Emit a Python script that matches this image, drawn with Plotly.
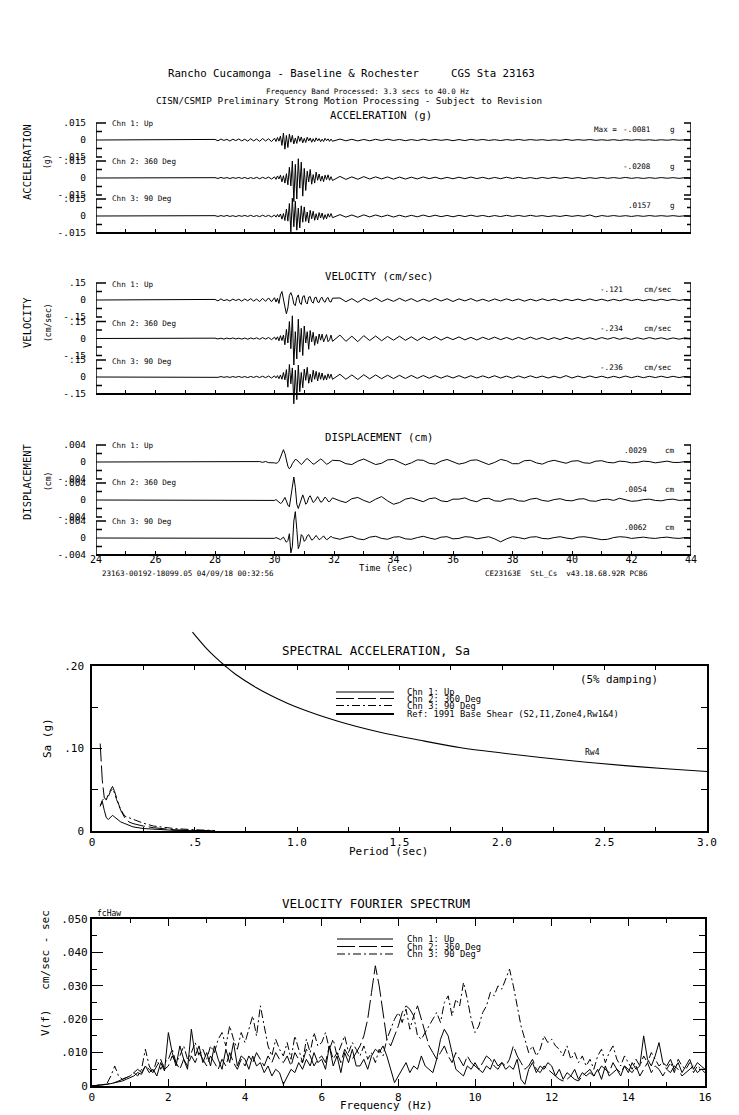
import numpy as np
import plotly.graph_objects as go

W, H = 739, 1115
FONT = "DejaVu Sans Mono"
NB = "\u00a0"


def fx(px):
    return px / W


def fy(py):
    return 1 - py / H


# ---------------- waveform time grid (sec) ----------------
T_SEG_A = np.linspace(28.0, 29.9, 20)
T_SEG_B = np.linspace(30.0, 31.95, 40)
T_SEG_C = np.linspace(32.2, 44.0, 60)
TIME = np.concatenate([[24.0, 27.9], T_SEG_A, T_SEG_B, T_SEG_C])

# Acceleration, units of 0.0001 g
ACC_UP = [
    5, -7, 8, -4, 6, -9, 7, -5, 9, -8,
    7, -10, 11, -8, 9, -12, 13, -9, 11, -14,
    16, -13, 22, -10, 35, -48, 62, -81, 40, -66,
    52, -20, 41, -35, 18, -30, 36, -12, 27, -25,
    14, -22, 25, -9, 18, -20, 11, -16, 19, -8,
    12, -15, 7, -13, 15, -6, 10, -12, 8, -11,
    8, -7, 6, -8, 5, -7, 6, -5, 7, -4,
    5, -6, 4, -5, 7, -4, 5, -3, 4, -6,
    4, -5, 6, -3, 5, -4, 3, -5, 4, -3,
    5, -3, 4, -2, 3, -4, 2, -3, 5, -3,
    3, -2, 4, -3, 2, -3, 3, -4, 3, -2,
    3, -2, 2, -3, 2, -2, 3, -2, 2, -2,
]
ACC_360 = [
    3, -4, 5, -3, 4, -5, 4, -3, 5, -4,
    5, -6, 4, -5, 6, -7, 6, -5, 8, -9,
    10, -12, 18, -8, 25, -34, 20, -45, 38, -60,
    95, -70, 150, -208, 120, -185, 170, -90, 140, -160,
    85, -110, 60, -35, 75, -55, 30, -45, 52, -20,
    35, -28, 18, -32, 25, -14, 28, -20, 12, -22,
    14, -12, 10, -11, 12, -9, 10, -8, 9, -10,
    8, -9, 7, -8, 9, -6, 7, -8, 6, -7,
    7, -6, 8, -5, 6, -7, 5, -6, 7, -5,
    6, -5, 4, -6, 5, -4, 6, -3, 5, -4,
    4, -5, 3, -4, 5, -3, 4, -3, 5, -3,
    3, -4, 3, -3, 4, -2, 3, -3, 3, -2,
]
ACC_90 = [
    3, -4, 4, -3, 5, -4, 3, -5, 4, -3,
    5, -4, 6, -5, 4, -6, 7, -5, 6, -8,
    8, -10, 14, -9, 18, -28, 22, -40, 60, -45,
    110, -140, 157, -95, 130, -125, 70, -105, 90, -55,
    80, -48, 35, -62, 50, -25, 42, -38, 20, -35,
    30, -18, 26, -30, 12, -24, 20, -10, 22, -15,
    12, -10, 9, -11, 10, -8, 9, -7, 8, -9,
    7, -8, 6, -7, 8, -6, 7, -6, 5, -7,
    6, -5, 7, -4, 5, -6, 4, -5, 6, -4,
    5, -4, 6, -3, 4, -5, 3, -4, 5, -3,
    4, -3, 9, -8, 4, -3, 4, -3, 3, -4,
    3, -3, 4, -2, 3, -2, 3, -3, 2, -2,
]

# Velocity, units of 0.001 cm/sec
VEL_UP = [
    5, -8, 10, -6, 4, -9, 8, -5, 7, -10,
    9, -7, 12, -10, 8, -14, 15, -12, 18, -15,
    20, -18, 15, -30, 45, 75, 20, -60, -121, -70,
    40, 65, 30, -35, -50, 20, 45, -25, -40, 30,
    38, -20, -35, 25, 30, -15, -28, 20, 25, -18,
    -22, 15, 24, -10, -20, 12, 22, -14, -18, 16,
    18, -15, 12, -20, 15, -10, 18, -14, 10, -12,
    15, -10, 12, -14, 8, -12, 14, -9, 11, -13,
    10, -8, 12, -10, 7, -11, 9, -8, 10, -7,
    9, -10, 7, -8, 10, -6, 8, -9, 7, -6,
    8, -7, 9, -6, 7, -8, 6, -7, 8, -5,
    6, -7, 5, -6, 7, -5, 6, -4, 5, -4,
]
VEL_360 = [
    3, -4, 3, -5, 4, -3, 5, -4, 3, -5,
    4, -6, 5, -4, 6, -7, 8, -6, 9, -10,
    12, -10, 15, -20, 25, -18, 30, -55, 80, -40,
    150, -90, 200, -234, 60, -180, 170, -120, 90, -150,
    110, -40, 60, -95, 70, -30, 55, -60, 20, -45,
    40, -15, 38, -30, 10, 35, -28, -12, 30, -25,
    30, -25, 20, -28, 25, -18, 22, -20, 18, -15,
    20, -16, 15, -18, 14, -12, 16, -14, 12, -10,
    14, -12, 10, -13, 11, -9, 12, -10, 9, -11,
    10, -9, 12, -8, 9, -10, 8, -9, 10, -7,
    9, -8, 7, -9, 8, -6, 9, -7, 6, -8,
    7, -6, 8, -5, 6, -7, 5, -6, 5, -4,
]
VEL_90 = [
    3, -3, 4, -3, 3, -4, 4, -3, 5, -4,
    4, -5, 5, -4, 6, -5, 7, -6, 8, -9,
    10, -8, 12, -15, 18, -20, 40, -25, 65, -90,
    110, -60, 80, -236, 60, -200, 105, -130, 40, -95,
    70, -30, 85, -55, 25, -45, 60, -20, 50, -35,
    40, -20, 35, -28, 15, -25, 28, -12, 25, -20,
    24, -20, 18, -22, 20, -16, 18, -15, 16, -14,
    15, -13, 14, -12, 13, -11, 12, -10, 11, -9,
    12, -10, 11, -9, 10, -8, 11, -9, 8, -10,
    9, -8, 10, -7, 8, -9, 7, -8, 12, -9,
    8, -7, 9, -6, 7, -8, 6, -7, 8, -6,
    7, -6, 6, -5, 7, -5, 6, -5, 5, -4,
]

# Displacement, units of 0.00001 cm
DIS_UP = [
    0, 2, -3, 4, -2, 3, -5, 4, -3, 5,
    -4, 6, -5, 8, -6, 10, -8, 12, -15, -10,
    -20, -30, -20, 20, 120, 240, 290, 200, 40, -100,
    -160, -120, -40, 20, 60, 50, 10, -40, -60, -30,
    20, 60, 80, 60, 20, -20, -50, -40, -10, 30,
    60, 70, 50, 10, -30, -50, -40, -10, 20, 40,
    30, -40, -60, 20, 70, 10, -60, -30, 50, 60,
    -10, -70, -20, 50, 40, -30, -50, 20, 60, 0,
    -50, -20, 40, 50, -10, -60, -10, 60, 30, -40,
    -40, 30, 40, -20, -50, 10, 40, 0, -30, 20,
    30, -20, -30, 20, 30, -10, -20, 20, 10, -20,
    -10, 20, 10, -20, 0, 20, -10, -10, 10, 0,
]
DIS_360 = [
    0, 1, -2, 2, -1, 2, -3, 2, -2, 3,
    -2, 3, -3, 4, -4, 5, -5, 6, -8, 5,
    -10, 10, -20, -40, -80, -60, 20, 60, -20, -120,
    -160, 100, 380, 540, 300, -100, -200, -80, 60, 120,
    20, -100, -60, 60, 100, 20, -60, -30, 40, 80,
    20, -50, -40, 30, 70, 30, -30, -40, 10, 50,
    -20, -60, 30, 60, -10, -60, 20, 80, -20, -100,
    -60, 20, 50, 0, -40, 30, 50, -20, -40, 20,
    20, 50, -10, -40, 30, 40, -20, -30, 20, 30,
    -20, -30, 20, 40, -10, -30, 10, 30, -10, -20,
    20, 30, -20, -30, 10, 20, -10, 40, 10, -30,
    -20, 10, 20, -10, -20, 10, 20, -10, 0, 0,
]
DIS_90 = [
    0, 1, -1, 2, -1, 1, -2, 2, -1, 2,
    -2, 2, -3, 3, -3, 4, -4, 5, -6, 6,
    -8, 10, -15, -20, -40, -20, 20, -40, -100, -60,
    100, -350, -200, 400, 620, 200, -250, -150, 80, 40,
    -80, -40, 50, 80, 20, -50, -30, 30, 60, 10,
    -40, -20, 30, 50, 0, -40, -20, 20, 40, 10,
    -30, 10, 40, -20, -40, 20, 40, -10, -30, 20,
    30, -20, -30, 10, 40, 0, -30, 20, 30, -20,
    -10, 30, 20, -20, 10, 30, -20, -90, -20, 30,
    10, -20, 20, 30, -10, -20, 10, 30, 0, -20,
    20, 30, 10, -20, -40, -30, 10, 30, 20, -10,
    10, 20, 0, -10, 10, 20, 0, -10, 10, 0,
]

# ---------------- spectral acceleration (g) ----------------
SA_PERIOD = [0.04, 0.05, 0.06, 0.07, 0.08, 0.09, 0.10, 0.11, 0.12, 0.14,
             0.16, 0.18, 0.20, 0.25, 0.30, 0.35, 0.40, 0.50, 0.60]
SA_UP = [0.030, 0.036, 0.025, 0.016, 0.014, 0.017, 0.019, 0.017, 0.015, 0.011,
         0.009, 0.0065, 0.005, 0.003, 0.002, 0.0012, 0.0008, 0.0004, 0.0002]
SA_360 = [0.106, 0.062, 0.040, 0.038, 0.045, 0.050, 0.054, 0.048, 0.040, 0.025,
          0.016, 0.011, 0.009, 0.006, 0.004, 0.0025, 0.0015, 0.0007, 0.0003]
SA_90 = [0.030, 0.037, 0.040, 0.038, 0.042, 0.048, 0.051, 0.046, 0.038, 0.026,
         0.018, 0.016, 0.014, 0.0095, 0.006, 0.0042, 0.003, 0.0015, 0.0006]
REF_PERIOD = [0.49, 0.55, 0.60, 0.65, 0.70, 0.80, 0.90, 1.00, 1.20, 1.40,
              1.60, 1.80, 2.00, 2.20, 2.40, 2.60, 2.80, 3.00]
REF_SA = [0.241, 0.2236, 0.211, 0.200, 0.190, 0.174, 0.161, 0.150, 0.133, 0.120,
          0.110, 0.101, 0.0945, 0.0887, 0.0837, 0.0793, 0.0755, 0.0721]

# ---------------- velocity Fourier spectrum (0.001 cm/sec-sec) ----------------
FREQ = np.linspace(0.0, 16.0, 161)
F_UP = [
    0, 0.1, 0.2, 0.3, 0.5, 0.7, 1.0, 1.2, 1.5, 2.0,
    2.5, 3.0, 4.0, 3.5, 6.0, 4.0, 5.0, 3.0, 7.0, 4.5,
    16, 10, 6, 12, 8, 5, 17, 9, 12, 7,
    10, 6, 12, 8, 5, 11, 7, 13, 6, 9,
    8, 5, 9, 6, 7, 4, 6, 3, 5, 4,
    0.5, 3, 5, 4, 7, 5, 8, 6, 10, 7,
    8, 5, 12, 6, 9, 4, 10, 7, 11, 6,
    6, 8, 5, 9, 11, 10, 12, 9, 5, 1,
    3, 5, 7, 4, 6, 5, 9, 6, 5, 4,
    8, 14, 17, 15, 10, 5, 4, 3, 6, 5,
    7, 5, 4, 6, 5, 8, 6, 7, 5, 6,
    5, 8, 2, 0.5, 5, 7, 4, 6, 5, 7,
    6, 3, 5, 2, 4, 3, 5, 2, 4, 3,
    4, 3, 5, 2, 6, 3, 4, 5, 3, 6,
    4, 7, 5, 6, 15, 8, 6, 9, 13, 7,
    6, 8, 5, 7, 4, 6, 8, 5, 7, 6,
    5,
]
F_360 = [
    0, 0.1, 0.2, 0.3, 0.5, 0.8, 1.0, 1.5, 2.0, 2.5,
    3, 4, 5, 4, 6, 5, 4, 6, 8, 5,
    6, 9, 7, 5, 8, 6, 9, 7, 10, 8,
    6, 9, 7, 5, 8, 6, 10, 7, 5, 8,
    6, 9, 7, 10, 8, 6, 9, 7, 10, 8,
    7, 9, 6, 10, 8, 7, 11, 9, 6, 8,
    9, 7, 12, 8, 10, 7, 11, 9, 8, 10,
    12, 15, 20, 28, 36, 30, 22, 14, 12, 15,
    18, 22, 24, 23, 21, 24, 20, 16, 12, 10,
    8, 10, 12, 9, 7, 10, 8, 6, 9, 7,
    6, 5, 7, 9, 8, 6, 5, 7, 6, 8,
    12, 9, 7, 5, 6, 8, 5, 4, 6, 5,
    4, 3, 2, 1.5, 2, 3, 2, 1.5, 3, 4,
    5, 3, 4, 6, 5, 4, 7, 5, 4, 6,
    5, 4, 6, 3, 5, 7, 4, 6, 5, 3,
    5, 4, 6, 5, 3, 4, 5, 6, 4, 5,
    5,
]
F_90 = [
    0, 0.1, 0.2, 0.4, 0.8, 3, 6, 3, 2, 2.5,
    3, 4, 3, 5, 11, 6, 4, 8, 5, 7,
    8, 11, 7, 9, 12, 8, 10, 13, 9, 11,
    8, 12, 10, 14, 16, 12, 18, 14, 11, 16,
    13, 17, 21, 15, 24, 18, 12, 9, 14, 11,
    9, 13, 8, 15, 11, 7, 14, 10, 16, 12,
    13, 16, 11, 14, 9, 12, 15, 10, 13, 11,
    9, 12, 8, 10, 7, 11, 9, 14, 17, 20,
    22, 19, 23, 17, 21, 15, 14, 16, 18, 20,
    22, 19, 25, 27, 21, 26, 24, 31, 26, 20,
    16, 18, 22, 24, 28, 27, 30, 29, 32, 35,
    30, 24, 18, 14, 10, 12, 9, 11, 15, 13,
    14, 12, 11, 9, 12, 8, 10, 7, 9, 6,
    8, 5, 9, 11, 7, 10, 12, 8, 6, 9,
    7, 5, 8, 6, 9, 7, 10, 8, 6, 7,
    5, 7, 4, 8, 6, 5, 7, 4, 6, 5,
    4,
]

# ---------------- figure ----------------
fig = go.Figure()
shapes = []
annotations = []
layout_axes = {}

DASH2 = "18px,4px"
DASH3 = "8px,3px,2px,3px"
PX_PER_SEC = (691 - 96) / 20.0

# channel definitions: values, unit, full scale, zero pixel, x axis
CHANNELS = [
    (ACC_UP, 1e-4, 0.015, 140, "x2"),
    (ACC_360, 1e-4, 0.015, 178, "x2"),
    (ACC_90, 1e-4, 0.015, 216, "x2"),
    (VEL_UP, 1e-3, 0.15, 300, "x3"),
    (VEL_360, 1e-3, 0.15, 338.5, "x3"),
    (VEL_90, 1e-3, 0.15, 377, "x3"),
    (DIS_UP, 1e-5, 0.004, 462, "x"),
    (DIS_360, 1e-5, 0.004, 500, "x"),
    (DIS_90, 1e-5, 0.004, 538, "x"),
]
FS_TEXT = {0.015: ".015", 0.15: ".15", 0.004: ".004"}
HALF_PX = 17.0
EXT_PX = 42.0

for i, (vals, unit, fs, zpx, xa) in enumerate(CHANNELS):
    yid = "y" if i == 0 else f"y{i + 1}"
    ykey = "yaxis" if i == 0 else f"yaxis{i + 1}"
    yvals = np.array([0.0, 0.0] + list(vals)) * unit
    fig.add_trace(go.Scatter(x=TIME, y=yvals, mode="lines", xaxis=xa, yaxis=yid,
                             line=dict(color="black", width=1), hoverinfo="skip"))
    ext = fs * EXT_PX / HALF_PX
    layout_axes[ykey] = dict(
        domain=[fy(zpx + EXT_PX), fy(zpx - EXT_PX)], range=[-ext, ext], anchor=xa,
        showgrid=False, zeroline=False, showline=False, automargin=False,
        tickmode="array", tickvals=[-fs, 0, fs],
        ticktext=["-" + FS_TEXT[fs], "0", FS_TEXT[fs]],
        ticks="outside", ticklen=7, tickcolor="rgba(0,0,0,0)",
        tickfont=dict(family=FONT, size=9.5, color="black"),
    )
    # left / right brackets in data coordinates
    a_l = 10 / PX_PER_SEC
    b_l = 6 / PX_PER_SEC
    a_r = 7 / PX_PER_SEC
    b_r = 4 / PX_PER_SEC
    h = fs / 2
    pl = (f"M {24 + a_l},{fs} L 24,{fs} L 24,{-fs} L {24 + b_l},{-fs} "
          f"M 24,{h} L {24 + b_l},{h} M 24,{-h} L {24 + b_l},{-h}")
    pr = (f"M {44 - a_r},{fs} L 44,{fs} L 44,{-fs} L {44 - a_r},{-fs} "
          f"M 44,{h} L {44 - b_r},{h} M 44,{-h} L {44 - b_r},{-h} M 44,0 L {44 - a_r},0")
    for p in (pl, pr):
        shapes.append(dict(type="path", path=p, xref=xa, yref=yid,
                           line=dict(color="black", width=1.5)))

# bottom time axes
common_x = dict(domain=[fx(96), fx(691)], range=[24, 44], anchor="free", automargin=False,
                showgrid=False, zeroline=False, showline=True, linecolor="black",
                linewidth=1.5, ticks="inside", ticklen=3, tickwidth=1, tickcolor="black")
layout_axes["xaxis2"] = dict(common_x, position=fy(233), dtick=1, tick0=24, showticklabels=False)
layout_axes["xaxis3"] = dict(common_x, position=fy(394), dtick=1, tick0=24, showticklabels=False)
layout_axes["xaxis"] = dict(common_x, position=fy(555), dtick=2, tick0=24,
                            minor=dict(dtick=1, tick0=24, ticks="inside", ticklen=3, tickcolor="black"),
                            tickfont=dict(family=FONT, size=10, color="black"),
                            ticklabelstandoff=-5)

# ---------------- spectral acceleration ----------------
for vals, dash in ((SA_UP, "solid"), (SA_360, DASH2), (SA_90, DASH3)):
    fig.add_trace(go.Scatter(x=SA_PERIOD, y=vals, mode="lines", xaxis="x4", yaxis="y10",
                             line=dict(color="black", width=1, dash=dash), hoverinfo="skip"))
for yid in ("y10", "y11"):
    fig.add_trace(go.Scatter(x=REF_PERIOD, y=REF_SA, mode="lines", xaxis="x4", yaxis=yid,
                             line=dict(color="black", width=1.1, shape="spline"), hoverinfo="skip"))

SA_TOP_PX, SA_BOT_PX = 666, 831
sa_per_px = 0.2 / (SA_BOT_PX - SA_TOP_PX)
layout_axes["xaxis4"] = dict(
    domain=[fx(92), fx(707)], range=[0, 3], anchor="y10", showgrid=False, zeroline=False,
    showline=True, mirror="ticks", linecolor="black", linewidth=1.5, automargin=False,
    ticks="inside", ticklen=4, tickcolor="black",
    tickmode="array", tickvals=[0, 0.5, 1.0, 1.5, 2.0, 2.5, 3.0],
    ticktext=["0", ".5", "1.0", "1.5", "2.0", "2.5", "3.0"],
    minor=dict(tickmode="array", tickvals=[0.25, 0.75, 1.25, 1.75, 2.25, 2.75],
               ticks="inside", ticklen=4, tickcolor="black"),
    tickfont=dict(family=FONT, size=11, color="black"))
layout_axes["yaxis10"] = dict(
    domain=[fy(SA_BOT_PX), fy(SA_TOP_PX)], range=[0, 0.2], anchor="x4", showgrid=False,
    zeroline=False, showline=True, mirror="ticks", linecolor="black", linewidth=1.5,
    automargin=False, ticks="inside", ticklen=10, tickcolor="black",
    tickmode="array", tickvals=[0, 0.1, 0.2], ticktext=["0", ".10", ".20"],
    minor=dict(tickmode="array", tickvals=[0.05, 0.15], ticks="inside", ticklen=6,
               tickcolor="black"),
    ticklabelstandoff=4,
    tickfont=dict(family=FONT, size=11, color="black"))
layout_axes["yaxis11"] = dict(
    domain=[fy(SA_TOP_PX), fy(620)], range=[0.2, 0.2 + (SA_TOP_PX - 620) * sa_per_px],
    anchor="x4", visible=False, showgrid=False, zeroline=False, automargin=False)

# ---------------- Fourier spectrum ----------------
for vals, dash in ((F_UP, "solid"), (F_360, DASH2), (F_90, DASH3)):
    fig.add_trace(go.Scatter(x=FREQ, y=np.array(vals) * 1e-3, mode="lines", xaxis="x5", yaxis="y12",
                             line=dict(color="black", width=1, dash=dash), hoverinfo="skip"))
layout_axes["xaxis5"] = dict(
    domain=[fx(91.7), fx(705)], range=[0, 16], anchor="y12", showgrid=False, zeroline=False,
    showline=True, mirror="ticks", linecolor="black", linewidth=1.5, automargin=False,
    ticks="inside", ticklen=7, tickcolor="black", dtick=2, tick0=0,
    minor=dict(dtick=1, tick0=0, ticks="inside", ticklen=4, tickcolor="black"),
    tickfont=dict(family=FONT, size=11, color="black"))
layout_axes["yaxis12"] = dict(
    domain=[fy(1086), fy(919)], range=[0, 0.05], anchor="x5", showgrid=False, zeroline=False,
    showline=True, mirror="ticks", linecolor="black", linewidth=1.5, automargin=False,
    ticks="inside", ticklen=12, tickcolor="black",
    tickmode="array", tickvals=[0, 0.01, 0.02, 0.03, 0.04, 0.05],
    ticktext=["0", ".010", ".020", ".030", ".040", ".050"],
    minor=dict(tickmode="array", tickvals=[0.005, 0.015, 0.025, 0.035, 0.045],
               ticks="inside", ticklen=6, tickcolor="black"),
    tickfont=dict(family=FONT, size=11, color="black"))


# ---------------- texts ----------------
def ann(text, x, y, size, xanchor="center", angle=0):
    annotations.append(dict(text=text, x=fx(x), y=fy(y), xref="paper", yref="paper",
                            showarrow=False, xanchor=xanchor, yanchor="middle",
                            textangle=angle, font=dict(family=FONT, size=size, color="black")))


ann("Rancho Cucamonga - Baseline & Rochester" + NB * 5 + "CGS Sta 23163", 351, 73, 10.7)
ann("Frequency Band Processed: 3.3 secs to 40.0 Hz", 367, 92, 7.5)
ann("CISN/CSMIP Preliminary Strong Motion Processing - Subject to Revision", 349, 100.5, 9.3)
ann("ACCELERATION (g)", 381, 115, 10.6)
ann("VELOCITY (cm/sec)", 379, 276, 10.6)
ann("DISPLACEMENT (cm)", 379, 437, 10.6)

ann("ACCELERATION", 27, 162, 10.5, angle=-90)
ann("(g)", 48, 162, 8, angle=-90)
ann("VELOCITY", 27, 323, 10.5, angle=-90)
ann("(cm/sec)", 48, 323, 8, angle=-90)
ann("DISPLACEMENT", 27, 482, 10.5, angle=-90)
ann("(cm)", 48, 482, 8, angle=-90)

CHN_NAMES = ["Chn 1: Up", "Chn 2: 360 Deg", "Chn 3: 90 Deg"]
for ys in ((123, 161, 199), (284, 323, 361), (445, 483, 521)):
    for name, yy in zip(CHN_NAMES, ys):
        ann(name, 110, yy, 7.6, xanchor="left")

ann("Max =", 592, 129, 7.6, xanchor="left")
for txt, yy in (("-.0081", 129), ("-.0208", 167), (".0157", 206)):
    ann(txt, 653, yy, 7.6, xanchor="right")
    ann("g", 672, yy, 7.6)
for txt, yy in (("-.121", 290), ("-.234", 328), ("-.236", 367)):
    ann(txt, 625, yy, 7.6, xanchor="right")
    ann("cm/sec", 657, yy, 7.6)
for txt, yy in ((".0029", 451), (".0054", 489), (".0062", 527)):
    ann(txt, 649, yy, 7.6, xanchor="right")
    ann("cm", 670, yy, 7.6)

ann("Time (sec)", 386, 568, 9)
ann("23163-00192-18099.05 04/09/18 00:32:56", 100, 573, 7.5, xanchor="left")
ann("CE23163E" + NB * 2 + "StL_Cs" + NB * 2 + "v43.18.68.92R PC86", 483, 573, 7.5, xanchor="left")

# spectral acceleration texts
ann("SPECTRAL ACCELERATION, Sa", 376, 650, 12.5)
ann("Sa (g)", 47, 738, 11, angle=-90)
ann("Period (sec)", 388, 851, 11)
ann("(5% damping)", 619, 679, 10.8)
ann("Rw4", 592, 752, 8)
SA_LEG = [("Chn 1: Up", 692, "solid", 1), ("Chn 2: 360 Deg", 698.5, DASH2, 1),
          ("Chn 3: 90 Deg", 705.5, DASH3, 1),
          ("Ref: 1991 Base Shear (S2,I1,Zone4,Rw1&4)", 714, "solid", 2)]
for txt, yy, dash, wd in SA_LEG:
    shapes.append(dict(type="line", xref="paper", yref="paper", x0=fx(336), x1=fx(394),
                       y0=fy(yy), y1=fy(yy), line=dict(color="black", width=wd, dash=dash)))
    ann(txt, 405, yy, 8.8, xanchor="left")

# Fourier texts
ann("VELOCITY FOURIER SPECTRUM", 376, 903, 12.5)
ann("V(f)" + NB * 3 + "cm/sec - sec", 45, 973, 11, angle=-90)
ann("Frequency (Hz)", 386, 1105, 11)
ann("fcHaw", 95, 913, 8, xanchor="left")
F_LEG = [("Chn 1: Up", 939, "solid"), ("Chn 2: 360 Deg", 946.5, DASH2),
         ("Chn 3: 90 Deg", 954, DASH3)]
for txt, yy, dash in F_LEG:
    shapes.append(dict(type="line", xref="paper", yref="paper", x0=fx(337), x1=fx(393),
                       y0=fy(yy), y1=fy(yy), line=dict(color="black", width=1, dash=dash)))
    ann(txt, 405, yy, 8.8, xanchor="left")

fig.update_layout(
    width=W, height=H, autosize=False,
    margin=dict(l=0, r=0, t=0, b=0, pad=0, autoexpand=False),
    paper_bgcolor="white", plot_bgcolor="rgba(0,0,0,0)",
    showlegend=False, font=dict(family=FONT, color="black"),
    shapes=shapes, annotations=annotations,
    **layout_axes,
)

fig.write_html(
    "out.html",
    config={"displayModeBar": False},
    post_script="document.body.style.margin='0px';document.body.style.padding='0px';"
                "document.documentElement.style.overflow='hidden';",
)
